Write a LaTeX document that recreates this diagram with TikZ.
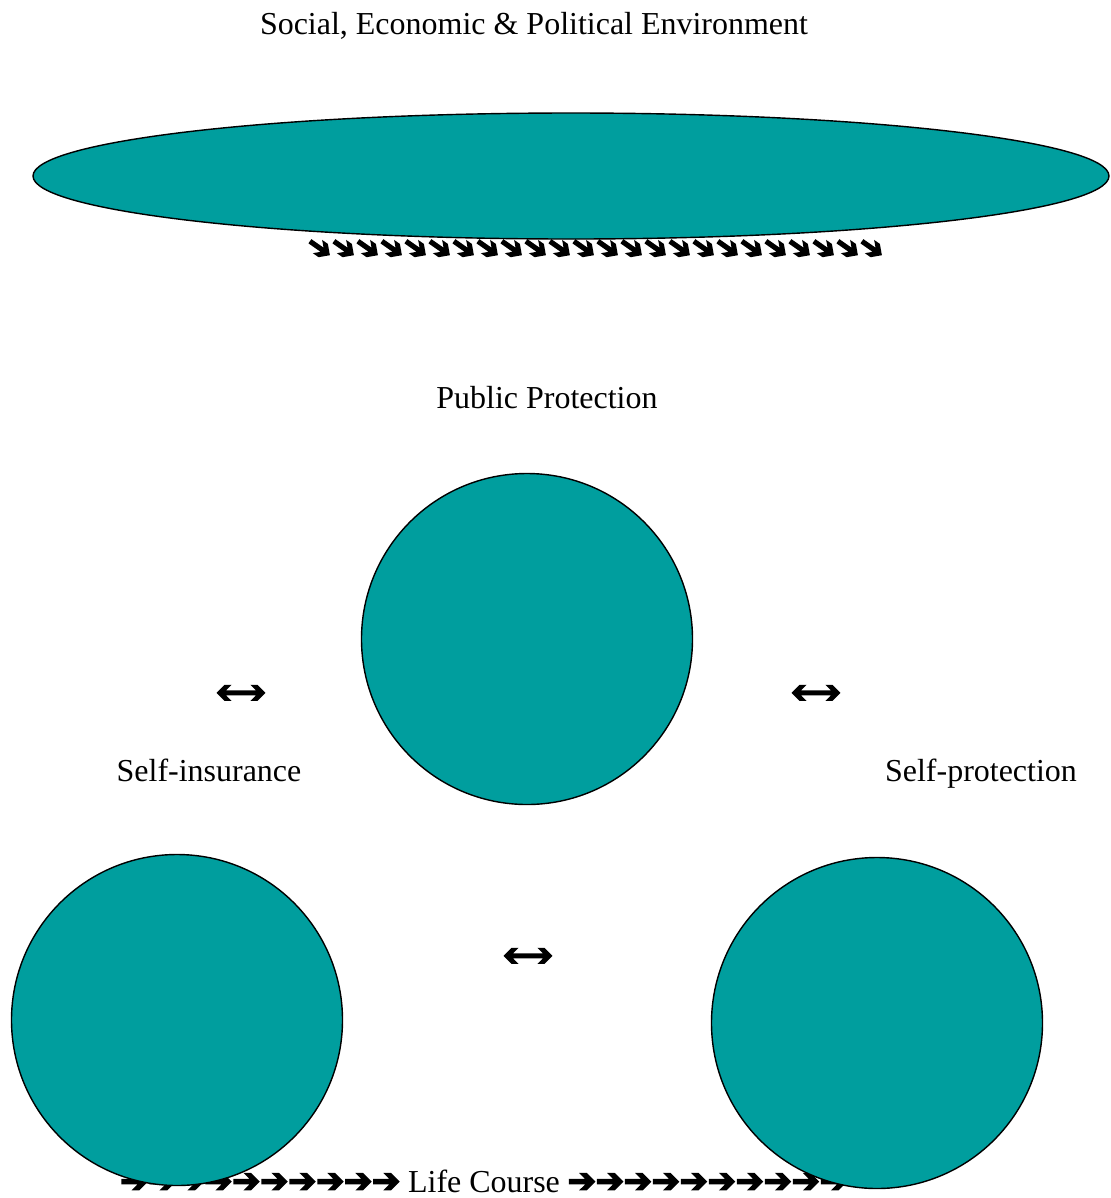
\documentclass[tikz,border=0pt]{standalone}
\usepackage{fontspec}
\setmainfont{Liberation Serif}
\newfontfamily\symfont[FakeBold=5]{DejaVu Sans}
\usetikzlibrary{positioning,shapes.geometric}
\definecolor{teal}{RGB}{0,158,158}
\newlength{\pxu}
\setlength{\pxu}{0.02cm}
\newcommand{\arrowrun}[2]{\foreach \k in {1,...,#1}{#2}}
\newcommand{\slant}{\makebox[24\pxu]{\rotatebox[origin=c]{-35}{➔}}}
\newcommand{\backfwd}{\reflectbox{➔}\kern-1pt➔}
\tikzset{
  blob/.style={circle,draw=black,line width=0.8pt,fill=teal,minimum size=331\pxu,inner sep=0pt},
  label/.style={font=\fontsize{18.2}{22}\selectfont,inner sep=0pt},
  twoway/.style={font=\symfont\fontsize{17.5}{20}\selectfont,inner sep=0pt}
}
\begin{document}
\begin{tikzpicture}[x=0.02cm,y=-0.02cm]
  \useasboundingbox (0,0) rectangle (1111,1198);

  % environment
  \node[label] (env) at (534,26) {Social, Economic \& Political Environment};
  \node[ellipse,draw=black,line width=0.8pt,fill=teal,minimum width=1076\pxu,minimum height=126\pxu,inner sep=0pt] (envoval) at (571,176) {};
  \node[inner sep=0pt,font=\symfont\fontsize{17.5}{18}\selectfont] (flow) at (595,249) {\arrowrun{24}{\slant}};

  % public protection
  \node[label] (pub) at (547,398) {Public Protection};

  % two-way arrows
  \node[twoway] (lnk1) at (241,694) {\backfwd};
  \node[twoway] (lnk2) at (816,694) {\backfwd};
  \node[twoway] (lnk3) at (528,957) {\backfwd};

  \node[label,anchor=base] (selfins) at (209,781) {Self-insurance};
  \node[label,anchor=base] (selfpro) at (981,781) {Self-protection};

  % life course, under the circles
  \node[label] (life) at (484,1181) {{\symfont\fontsize{19}{20}\selectfont\arrowrun{10}{➔}} Life Course {\symfont\fontsize{19}{20}\selectfont\arrowrun{10}{➔}}};

  % the three circles
  \node[blob] (pubc) at (527,639) {};
  \node[blob] (insc) at (177,1020) {};
  \node[blob] (proc) at (877,1023) {};
\end{tikzpicture}
\end{document}
